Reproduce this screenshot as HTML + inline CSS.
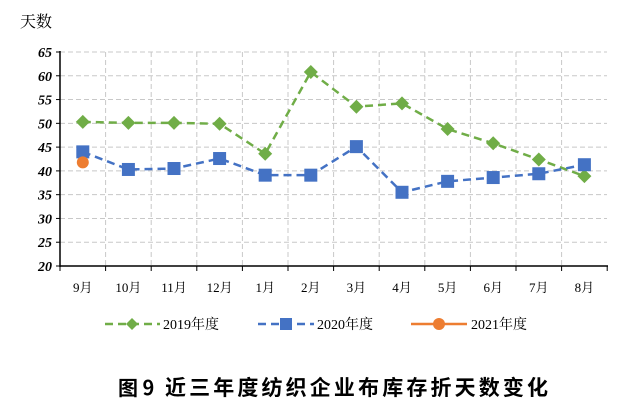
<!DOCTYPE html>
<html><head><meta charset="utf-8"><style>
body{margin:0;background:#fff;width:631px;height:404px;overflow:hidden}
</style></head><body>
<svg id="s" width="631" height="404" xmlns="http://www.w3.org/2000/svg" font-family="'Liberation Serif','Noto Serif CJK SC',serif"></svg>
<script>
const s=document.getElementById('s');
let h='';
const X=i=>82.8+45.6*i, Y=v=>266-(v-20)*214/45;
h+='<text x="20" y="27" font-size="16" font-family="\'Noto Serif CJK SC\',serif">天数</text>';
for(let v=20;v<=65;v+=5){const y=Y(v);
 if(v>20)h+=`<line x1="60" x2="607" y1="${y}" y2="${y}" stroke="#c8c8c8" stroke-dasharray="5,3"/>`;
 h+=`<text x="52" y="${y+5}" text-anchor="end" font-size="14" font-weight="bold" font-style="italic">${v}</text>`;
 h+=`<line x1="56" x2="60" y1="${y}" y2="${y}" stroke="#000"/>`;}
for(let i=1;i<12;i++){const x=60+45.6*i;h+=`<line x1="${x}" x2="${x}" y1="52" y2="266" stroke="#c8c8c8" stroke-dasharray="5,3"/>`;}
for(let i=0;i<=12;i++){const x=60+45.6*i;h+=`<line x1="${x}" x2="${x}" y1="266" y2="271" stroke="#000"/>`;}
h+='<line x1="60" x2="60" y1="51" y2="267" stroke="#000" stroke-width="1.5"/><line x1="60" x2="608" y1="266" y2="266" stroke="#000" stroke-width="1.5"/>';
const m=['9月','10月','11月','12月','1月','2月','3月','4月','5月','6月','7月','8月'];
m.forEach((t,i)=>h+=`<text x="${X(i)}" y="292" text-anchor="middle" font-size="13">${t}</text>`);
const a=[50.3,50.1,50.1,49.9,43.6,60.8,53.5,54.2,48.8,45.8,42.4,38.9];
const b=[44,40.3,40.5,42.6,39.1,39.1,45.1,35.5,37.8,38.6,39.4,41.3];
h+=`<polyline fill="none" stroke="#70ad47" stroke-width="2.5" stroke-dasharray="8,5" points="${a.map((v,i)=>X(i)+','+Y(v)).join(' ')}"/>`;
h+=`<polyline fill="none" stroke="#4472c4" stroke-width="2.5" stroke-dasharray="8,5" points="${b.map((v,i)=>X(i)+','+Y(v)).join(' ')}"/>`;
a.forEach((v,i)=>{const x=X(i),y=Y(v);h+=`<polygon points="${x},${y-7} ${x+7},${y} ${x},${y+7} ${x-7},${y}" fill="#70ad47"/>`;});
b.forEach((v,i)=>{const x=X(i),y=Y(v);h+=`<rect x="${x-6.5}" y="${y-6.5}" width="13" height="13" fill="#4472c4"/>`;});
h+=`<circle cx="${X(0)}" cy="${Y(41.8)}" r="6" fill="#ed7d31"/>`;
h+='<line x1="105" x2="160" y1="324" y2="324" stroke="#70ad47" stroke-width="2.5" stroke-dasharray="8,5"/><polygon points="132,318 138,324 132,330 126,324" fill="#70ad47"/><text x="163" y="329" font-size="14">2019年度</text>';
h+='<line x1="258" x2="314" y1="324" y2="324" stroke="#4472c4" stroke-width="2.5" stroke-dasharray="8,5"/><rect x="280" y="318" width="12" height="12" fill="#4472c4"/><text x="317" y="329" font-size="14">2020年度</text>';
h+='<line x1="411" x2="467" y1="324" y2="324" stroke="#ed7d31" stroke-width="2.5"/><circle cx="439" cy="324" r="6" fill="#ed7d31"/><text x="471" y="329" font-size="14">2021年度</text>';
h+='<text x="118" y="395" font-size="20" font-weight="bold" font-family="\'Noto Sans CJK SC\',sans-serif">图 9</text>';
h+='<text x="165" y="395" font-size="21" font-weight="bold" textLength="383" lengthAdjust="spacing" font-family="\'Noto Sans CJK SC\',sans-serif">近三年度纺织企业布库存折天数变化</text>';
s.innerHTML=h;
</script>
</body></html>
